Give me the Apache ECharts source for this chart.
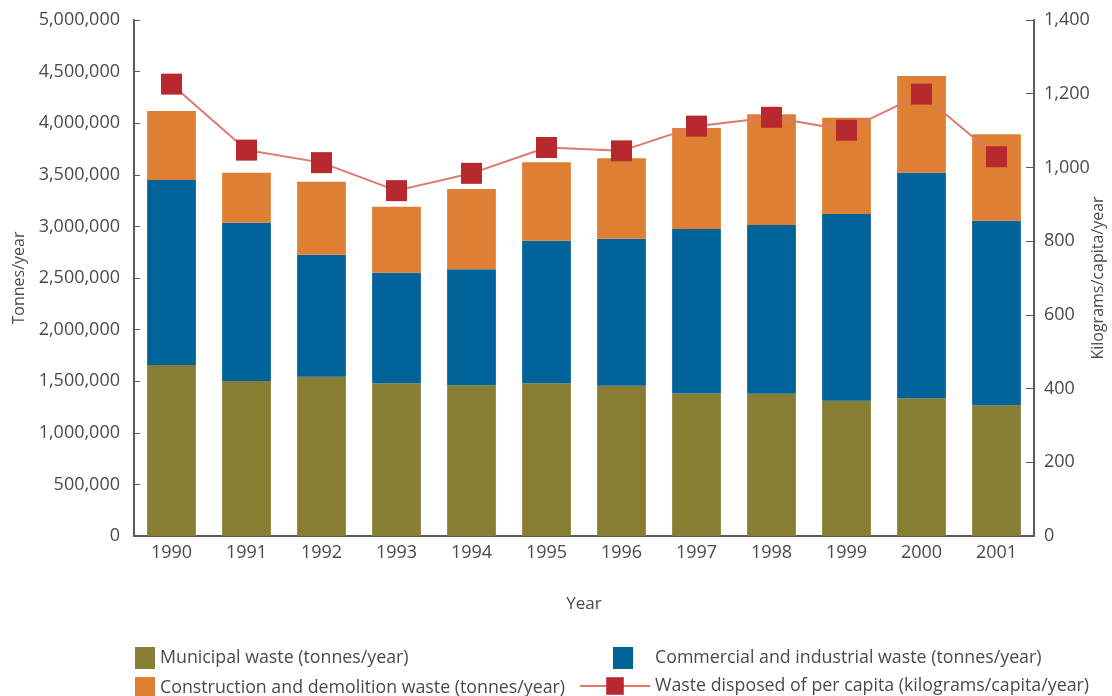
<!DOCTYPE html>
<html>
<head>
<meta charset="utf-8">
<style>
  html, body { margin: 0; padding: 0; background: #ffffff; }
  #chart { width: 1112px; height: 696px; }
</style>
<script src="https://cdn.jsdelivr.net/npm/echarts@6/dist/echarts.min.js"></script>
</head>
<body>
<div id="chart"></div>
<script>
// Waste disposed, 1990-2001
const years = ['1990', '1991', '1992', '1993', '1994', '1995', '1996', '1997', '1998', '1999', '2000', '2001'];
const municipal = [1657000, 1502000, 1544000, 1479000, 1460000, 1479000, 1457000, 1382000, 1379000, 1311000, 1334000, 1266000];
const commercial = [1793000, 1534000, 1182000, 1073000, 1124000, 1383000, 1424000, 1593000, 1635000, 1809000, 2186000, 1789000];
const construction = [668000, 484000, 707000, 639000, 778000, 759000, 779000, 979000, 1072000, 934000, 937000, 837000];
const perCapita = [1226, 1047, 1013, 937, 984, 1054, 1045, 1112, 1136, 1101, 1199, 1029];

const names = {
  municipal: 'Municipal waste (tonnes/year)',
  commercial: 'Commercial and industrial waste (tonnes/year)',
  construction: 'Construction and demolition waste (tonnes/year)',
  perCapita: 'Waste disposed of per capita (kilograms/capita/year)'
};

const FONT = '"Open Sans", "Noto Sans", sans-serif';
const TEXT = '#4a4a4a';
const AXIS = '#5c5c52';

const fmt = v => v.toLocaleString('en-US');

const legendText = { color: TEXT, fontSize: 17.8, fontFamily: FONT };

const chart = echarts.init(document.getElementById('chart'), null, { renderer: 'canvas' });
chart.setOption({
  animation: false,
  textStyle: { fontFamily: FONT },
  grid: { left: 134, right: 78, top: 20, bottom: 160, containLabel: false, outerBoundsMode: 'none' },
  legend: [
    { data: [names.municipal], icon: 'rect', left: 130, top: 642, itemWidth: 20, itemHeight: 22, itemGap: 0, textStyle: legendText },
    { data: [names.construction], icon: 'rect', left: 130, top: 672, itemWidth: 20, itemHeight: 22, itemGap: 0, textStyle: legendText },
    { data: [names.commercial], icon: 'rect', left: 608, top: 642, itemWidth: 20, itemHeight: 22, itemGap: 0, textStyle: Object.assign({}, legendText, { padding: [0, 0, 0, 17] }) },
    { data: [names.perCapita], left: 574, top: 672, itemWidth: 70, itemHeight: 22, itemGap: 0, textStyle: legendText }
  ],
  xAxis: {
    type: 'category',
    data: years,
    name: 'Year',
    nameLocation: 'middle',
    nameGap: 60,
    nameTextStyle: { color: TEXT, fontSize: 17, fontFamily: FONT },
    axisLine: { lineStyle: { color: AXIS, width: 2 } },
    axisTick: { inside: true, length: 7, lineStyle: { color: AXIS, width: 2 } },
    axisLabel: { color: TEXT, fontSize: 18, fontFamily: FONT, margin: 8 }
  },
  yAxis: [
    {
      type: 'value',
      min: 0, max: 5000000, interval: 500000,
      name: 'Tonnes/year',
      nameLocation: 'middle',
      nameGap: 107,
      nameRotate: 90,
      nameMoveOverlap: false,
      nameTextStyle: { color: TEXT, fontSize: 16, fontFamily: FONT },
      axisLine: { show: true, lineStyle: { color: AXIS, width: 2 } },
      axisTick: { show: true, inside: true, length: 6, lineStyle: { color: AXIS, width: 1 } },
      axisLabel: { color: TEXT, fontSize: 18, fontFamily: FONT, margin: 14, formatter: fmt },
      splitLine: { show: false }
    },
    {
      type: 'value',
      min: 0, max: 1400, interval: 200,
      position: 'right',
      name: 'Kilograms/capita/year',
      nameLocation: 'middle',
      nameGap: 56,
      nameRotate: 90,
      nameMoveOverlap: false,
      nameTextStyle: { color: TEXT, fontSize: 16, fontFamily: FONT },
      axisLine: { show: true, lineStyle: { color: AXIS, width: 2 } },
      axisTick: { show: true, inside: true, length: 8, lineStyle: { color: AXIS, width: 1 } },
      axisLabel: { color: TEXT, fontSize: 18, fontFamily: FONT, margin: 10, formatter: fmt },
      splitLine: { show: false }
    }
  ],
  series: [
    {
      name: names.municipal, type: 'bar', stack: 'waste', data: municipal,
      barCategoryGap: '35%', itemStyle: { color: '#877E34' }
    },
    {
      name: names.commercial, type: 'bar', stack: 'waste', data: commercial,
      itemStyle: { color: '#00649B' }
    },
    {
      name: names.construction, type: 'bar', stack: 'waste', data: construction,
      itemStyle: { color: '#DF7F34' }
    },
    {
      name: names.perCapita, type: 'line', yAxisIndex: 1, data: perCapita,
      symbol: 'rect', symbolSize: 21,
      lineStyle: { color: '#E0796C', width: 2 },
      itemStyle: { color: '#B7292F' },
      z: 5
    }
  ]
});
</script>
</body>
</html>
